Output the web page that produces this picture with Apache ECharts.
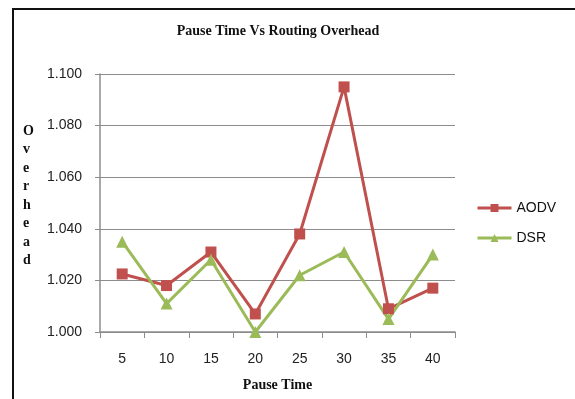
<!DOCTYPE html>
<html><head><meta charset="utf-8">
<script src="https://cdn.jsdelivr.net/npm/echarts@6/dist/echarts.min.js"></script>
<style>html,body{margin:0;padding:0;background:#fff}#c{width:575px;height:399px}</style>
</head><body><div id="c"></div>
<script>
var categories = ['5','10','15','20','25','30','35','40'];
var aodv = [1.0225, 1.018, 1.031, 1.007, 1.038, 1.095, 1.009, 1.017];
var dsr = [1.035, 1.011, 1.028, 1.000, 1.022, 1.031, 1.005, 1.030];
var chart = echarts.init(document.getElementById('c'));
var serif = '"Liberation Serif","DejaVu Serif",serif';
var sans = '"Liberation Sans","DejaVu Sans",sans-serif';
chart.setOption({
  animation: false,
  title: {text: 'Pause Time Vs Routing Overhead', left: 273, textAlign: 'center', top: 19,
    textStyle: {fontFamily: serif, fontWeight: 'bold', fontSize: 14, color: '#111'}},
  legend: {orient: 'vertical', left: 476, top: 201, itemGap: 16, itemWidth: 34, itemHeight: 10, padding: 0,
    lineStyle: {width: 3},
    textStyle: {fontFamily: sans, fontSize: 14, color: '#111'},
    data: ['AODV', 'DSR']},
  grid: {left: 100, right: 120, top: 74, bottom: 67},
  xAxis: {type: 'category', data: categories, boundaryGap: true,
    name: 'Pause Time', nameLocation: 'middle', nameGap: 46,
    nameTextStyle: {fontFamily: serif, fontWeight: 'bold', fontSize: 14, color: '#111'},
    axisLine: {lineStyle: {color: '#8c8c8c', width: 1.5}},
    axisTick: {show: true, alignWithLabel: false, length: 6, lineStyle: {color: '#8c8c8c'}},
    axisLabel: {fontFamily: sans, fontSize: 14, color: '#222', margin: 20}},
  yAxis: {type: 'value', min: 1.0, max: 1.1, interval: 0.02,
    axisLine: {show: true, lineStyle: {color: '#8c8c8c', width: 1.5}},
    axisTick: {show: true, length: 5, lineStyle: {color: '#8c8c8c'}},
    axisLabel: {fontFamily: sans, fontSize: 14, color: '#222', margin: 18,
      formatter: function(v){return v.toFixed(3);}},
    splitLine: {lineStyle: {color: '#8c8c8c', width: 1.2}}},
  series: [
    {name: 'AODV', type: 'line', data: aodv, symbol: 'rect', symbolSize: 11,
     itemStyle: {color: '#c0504d'}, lineStyle: {color: '#c0504d', width: 3}},
    {name: 'DSR', type: 'line', data: dsr, symbol: 'triangle', symbolSize: 12,
     itemStyle: {color: '#9bbb59'}, lineStyle: {color: '#9bbb59', width: 3}}
  ],
  graphic: [
    {type: 'line', shape: {x1: 12, y1: 9, x2: 575, y2: 9}, style: {stroke: '#111', lineWidth: 2}},
    {type: 'line', shape: {x1: 13, y1: 9, x2: 13, y2: 399}, style: {stroke: '#111', lineWidth: 2}},
    {type: 'text', left: 23, top: 122, style: {text: 'O\nv\ne\nr\nh\ne\na\nd', align: 'center',
      font: 'bold 14px ' + serif, fill: '#111', lineHeight: 18.5}}
  ]
});
</script></body></html>
